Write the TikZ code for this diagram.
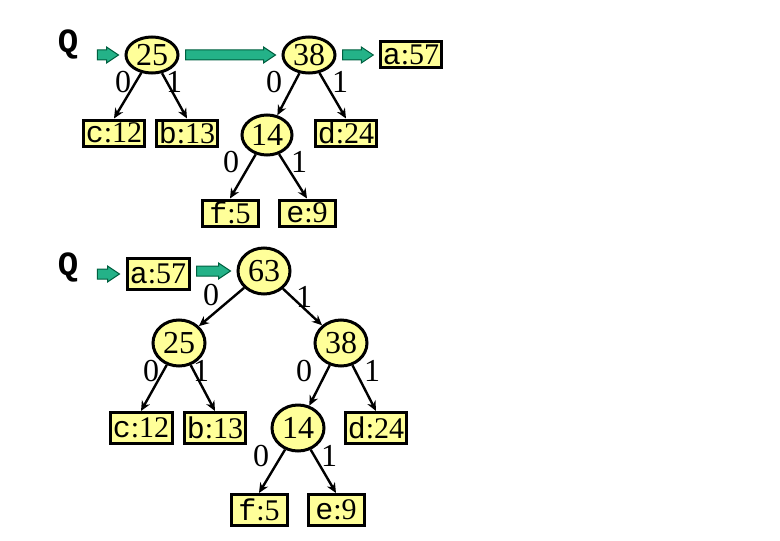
\documentclass[tikz,border=0pt]{standalone}
\usepackage{fontspec}
\setmainfont{Liberation Serif}
\setmonofont{Liberation Mono}
\usetikzlibrary{shapes.geometric,arrows.meta,calc}
\definecolor{paleyel}{RGB}{255,255,153}
\definecolor{qfill}{RGB}{36,178,136}
\definecolor{qline}{RGB}{0,96,64}
\newcommand\qarrow[3][3]{\filldraw[qarr] let \p1=(#2.east), \p2=(#3.west) in
  (\x1+#1pt,\y2+2.5pt) -- (\x2-9pt,\y2+2.5pt) -- (\x2-9pt,\y2+4pt) -- (\x2-3pt,\y2)
  -- (\x2-9pt,\y2-4pt) -- (\x2-9pt,\y2-2.5pt) -- (\x1+#1pt,\y2-2.5pt) -- cycle;}

\begin{document}
\begin{tikzpicture}[x=0.5pt,y=-0.5pt,font=\fontsize{16}{18}\selectfont,
  knot/.style={ellipse,draw,line width=1.5pt,fill=paleyel,inner sep=0pt,minimum width=26pt,minimum height=18pt},
  leaf/.style={rectangle,draw,line width=1.5pt,fill=paleyel,inner xsep=1pt,inner ysep=0pt,minimum width=28pt,minimum height=13pt,font=\fontsize{15}{17}\selectfont},
  edge/.style={line width=1.2pt,-{Stealth[length=5pt,width=4.5pt]}},
  qarr/.style={fill=qfill,draw=qline,line width=0.5pt},
  qname/.style={font=\fontsize{17}{18}\selectfont\ttfamily\bfseries},
  bit/.style={inner sep=0pt}]
  \useasboundingbox (0,0) rectangle (780,540);
  % first queue
  \node[qname] (q1) at (68,44) {Q};
  \node[knot] (a25) at (152,55) {25}; \node[knot] (a38) at (309,55) {38};
  \node[leaf] (a57) at (411,55) {\texttt{a}:57};
  \node[leaf] (c12) at (114,133) {\texttt{c}:12}; \node[leaf] (b13) at (187,133) {\texttt{b}:13};
  \node[knot,minimum width=25pt,minimum height=20pt] (a14) at (267,135) {14};
  \node[leaf] (d24) at (346,133) {\texttt{d}:24};
  \node[leaf] (f5) at (230,213) {\texttt{f}:5}; \node[leaf] (e9) at (307,213) {\texttt{e}:9};
  \qarrow[6]{q1}{a25} \qarrow{a25}{a38} \qarrow{a38}{a57}
  \draw[edge] (a25) -- (c12.north); \draw[edge] (a25) -- (b13.north);
  \draw[edge] (a38) -- (a14); \draw[edge] (a38) -- (d24.north);
  \draw[edge] (a14) -- (f5.north); \draw[edge] (a14) -- (e9.north);
  \node[bit] (t1) at (123,82) {0}; \node[bit] (t2) at (174,82) {1};
  \node[bit] (t3) at (274,82) {0}; \node[bit] (t4) at (340,82) {1};
  \node[bit] (t5) at (231,162) {0}; \node[bit] (t6) at (299,162) {1};
  % second queue
  \begin{scope}[knot/.append style={minimum height=23pt},leaf/.append style={minimum height=15.5pt}]
  \node[qname] (q2) at (68,267) {Q};
  \node[leaf,minimum width=31pt] (b57) at (158,274) {\texttt{a}:57};
  \node[knot] (b63) at (264,271) {63};
  \node[knot] (b25) at (179,343) {25}; \node[knot] (b38) at (341,343) {38};
  \node[leaf,minimum width=31pt] (c12b) at (141,428) {\texttt{c}:12}; \node[leaf] (b13b) at (215,428) {\texttt{b}:13};
  \node[knot] (b14) at (298,428) {14}; \node[leaf] (d24b) at (376,428) {\texttt{d}:24};
  \node[leaf] (f5b) at (259,510) {\texttt{f}:5}; \node[leaf] (e9b) at (336,510) {\texttt{e}:9};
  \end{scope}
  \qarrow[6]{q2}{b57} \qarrow{b57}{b63}
  \draw[edge] (b63) -- (b25); \draw[edge] (b63) -- (b38);
  \draw[edge] (b25) -- (c12b.north); \draw[edge] (b25) -- (b13b.north);
  \draw[edge] (b38) -- (b14); \draw[edge] (b38) -- (d24b.north);
  \draw[edge] (b14) -- (f5b.north); \draw[edge] (b14) -- (e9b.north);
  \node[bit] (u1) at (211,295) {0}; \node[bit] (u2) at (304,297) {1};
  \node[bit] (u3) at (151,371) {0}; \node[bit] (u4) at (201,371) {1};
  \node[bit] (u5) at (304,371) {0}; \node[bit] (u6) at (372,371) {1};
  \node[bit] (u7) at (261,456) {0}; \node[bit] (u8) at (329,456) {1};
\end{tikzpicture}
\end{document}
